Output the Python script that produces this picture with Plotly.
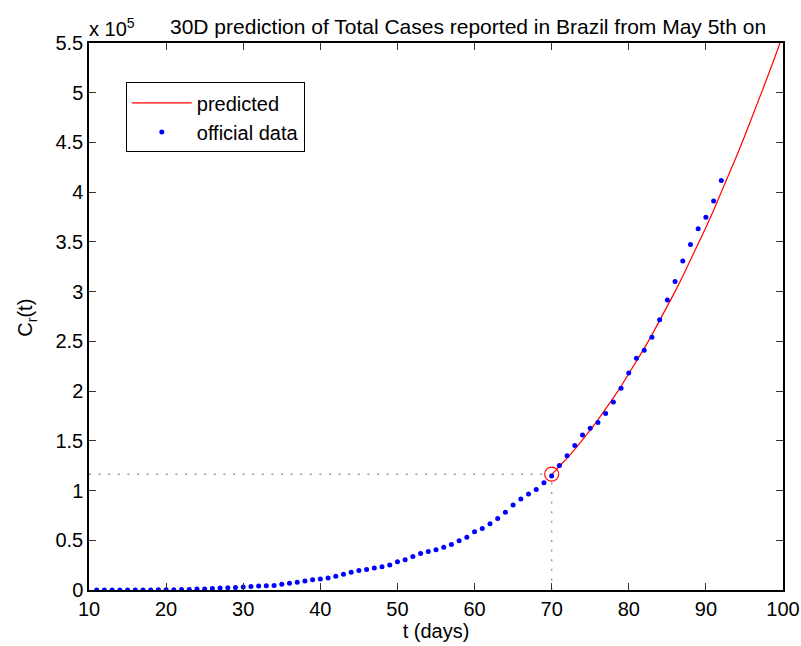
import plotly.graph_objects as go

# Official cumulative confirmed cases in Brazil, one value per day (t = 11 .. 92)
days_official = list(range(11, 93))
cases_official = [
    19, 25, 25, 34, 52, 77, 98, 121, 200, 234,
    291, 428, 621, 904, 1128, 1546, 1891, 2201, 2433, 2915,
    3417, 3904, 4256, 4579, 5717, 6836, 7910, 9056, 10278, 11130,
    12056, 13717, 15927, 17857, 19638, 20727, 22169, 23430, 25262, 28320,
    30425, 33682, 36599, 38654, 40581, 43079, 45757, 49492, 52995, 58509,
    61888, 66501, 71886, 78162, 85380, 91589, 96559, 101147, 107780, 114715,
    125218, 135106, 145328, 155939, 162699, 168331, 177589, 188974, 202918, 218223,
    233142, 241080, 254220, 271628, 291579, 310087, 330890, 347398, 363211, 374898,
    391222, 411821,
]

# 30-day prediction starting on May 5th (t = 70 .. 100)
days_pred = list(range(70, 101))
cases_pred = [
    116000, 124000, 132500, 141500, 150900, 160800, 171100, 181900, 193200, 204900,
    217100, 229800, 242900, 256500, 270500, 285100, 300000, 315500, 331400, 347800,
    364600, 381900, 399700, 417900, 436600, 455800, 475400, 495500, 516000, 537000,
    558500,
]

# Starting point of the prediction
t0 = 70
c0 = 116500

x_ticks = list(range(10, 101, 10))
y_tick_vals = [i * 50000 for i in range(12)]
y_tick_text = ["0", "0.5", "1", "1.5", "2", "2.5", "3", "3.5", "4", "4.5", "5", "5.5"]

FONT = "Liberation Sans, Arial, Helvetica, sans-serif"

fig = go.Figure()

# Guide lines to the starting point
fig.add_trace(go.Scatter(
    x=[10, t0], y=[c0, c0], mode="lines",
    line=dict(color="#9a9a9a", width=1.5, dash="2px,7.6px"),
    showlegend=False, hoverinfo="skip",
))
fig.add_trace(go.Scatter(
    x=[t0, t0], y=[0, c0], mode="lines",
    line=dict(color="#9a9a9a", width=1.5, dash="2px,7.6px"),
    showlegend=False, hoverinfo="skip",
))

fig.add_trace(go.Scatter(
    x=days_pred, y=cases_pred, mode="lines", name="predicted",
    line=dict(color="#ff0000", width=1.2),
))
fig.add_trace(go.Scatter(
    x=days_official, y=cases_official, mode="markers", name="official data",
    marker=dict(color="#0000ff", size=5),
))
fig.add_trace(go.Scatter(
    x=[t0], y=[c0], mode="markers",
    marker=dict(symbol="circle-open", size=14, color="#ff0000", line=dict(width=1.2)),
    showlegend=False, hoverinfo="skip",
))

axis_common = dict(
    showgrid=False, zeroline=False, automargin=False,
    showline=True, linecolor="black", linewidth=1.5, mirror="ticks",
    ticks="inside", ticklen=7, tickwidth=1, tickcolor="#333333",
    tickfont=dict(family=FONT, size=20, color="black"),
)

fig.update_xaxes(
    range=[10, 100], tickvals=x_ticks,
    title=dict(text="t (days)", font=dict(family=FONT, size=20, color="black"), standoff=2),
    **axis_common,
)
fig.update_yaxes(
    range=[0, 550000], tickvals=y_tick_vals, ticktext=y_tick_text,
    **axis_common,
)

fig.add_annotation(
    text="x 10<sup>5</sup>", xref="paper", yref="paper", x=-0.003, y=1.029,
    xanchor="left", yanchor="middle", showarrow=False,
    font=dict(family=FONT, size=20, color="black"),
)
fig.add_annotation(
    text="30D prediction of Total Cases reported in Brazil from May 5th on",
    xref="paper", yref="paper", x=0.5466, y=1.031,
    xanchor="center", yanchor="middle", showarrow=False,
    font=dict(family=FONT, size=21, color="black"),
)
fig.add_annotation(
    text="C<sub>r</sub>(t)", xref="paper", yref="paper", x=-0.09, y=0.497,
    xanchor="center", yanchor="middle", textangle=-90, showarrow=False,
    font=dict(family=FONT, size=20, color="black"),
)

fig.update_layout(
    width=801, height=646,
    margin=dict(l=89, r=18, t=43, b=56, autoexpand=False),
    paper_bgcolor="white", plot_bgcolor="white",
    legend=dict(
        x=0.053, y=0.928, xanchor="left", yanchor="top",
        bgcolor="white", bordercolor="black", borderwidth=1,
        font=dict(family=FONT, size=20, color="black"),
        itemwidth=60, tracegroupgap=0,
    ),
)

fig.write_html("out.html")
